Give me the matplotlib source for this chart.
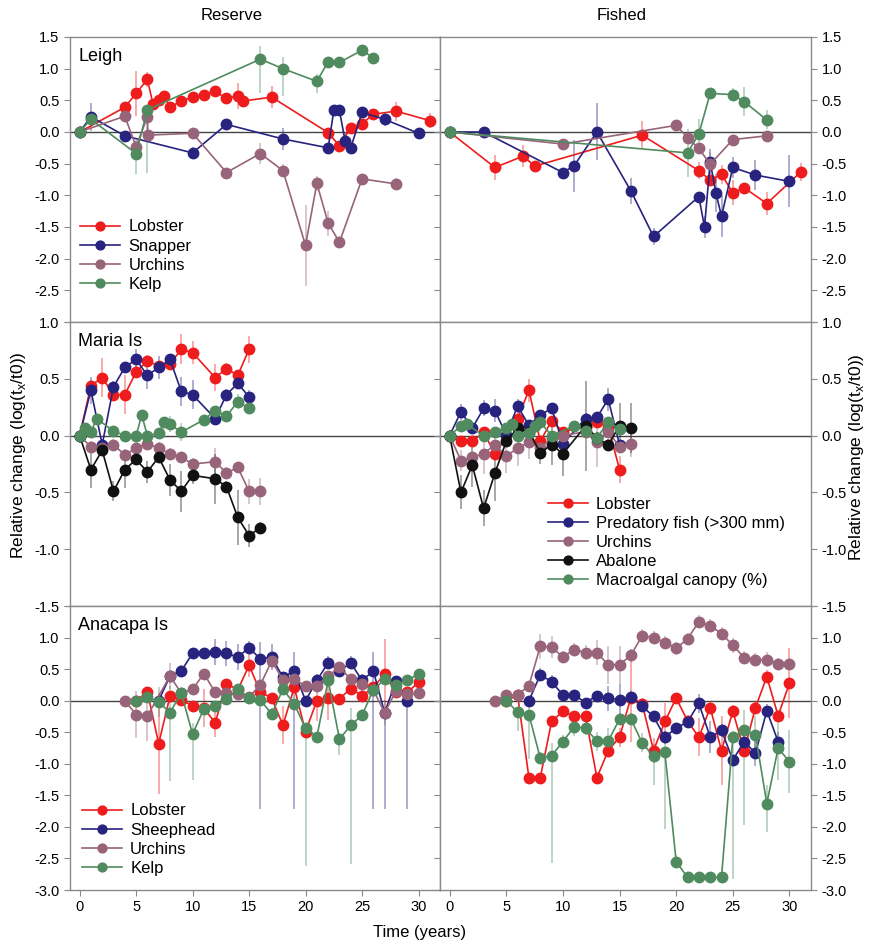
import matplotlib
matplotlib.use("Agg")
import matplotlib.pyplot as plt

plt.rcParams['font.family'] = ['Liberation Sans', 'DejaVu Sans']

RED = '#ee1c1c'
BLUE = '#27237f'
MAUVE = '#976479'
GREEN = '#4f8b5f'
BLACK = '#111111'

# ---------------- Leigh, reserve ----------------
leigh_res_lobster_x = [0, 4, 5, 6, 6.5, 7, 7.5, 8, 9, 10, 11, 12, 13, 14, 14.5, 17, 22, 23, 24, 25, 26, 28, 31]
leigh_res_lobster_y = [0, 0.39, 0.61, 0.83, 0.44, 0.50, 0.57, 0.39, 0.49, 0.55, 0.59, 0.64, 0.53, 0.57, 0.49, 0.55, -0.01, -0.22, 0.07, 0.13, 0.28, 0.33, 0.18]
leigh_res_lobster_err = [0, 0.07, 0.35, 0.12, 0.05, 0.05, 0.05, 0.05, 0.05, 0.08, 0.05, 0.05, 0.05, 0.2, 0.05, 0.17, 0.05, 0.05, 0.05, 0.08, 0.05, 0.15, 0.12]

leigh_res_snapper_x = [0, 1, 4, 10, 13, 18, 22, 22.5, 23, 23.5, 24, 25, 27, 30]
leigh_res_snapper_y = [0, 0.24, -0.06, -0.33, 0.12, -0.11, -0.25, 0.34, 0.34, -0.14, -0.25, 0.31, 0.20, -0.02]
leigh_res_snapper_err = [0, 0.22, 0.05, 0.1, 0.05, 0.18, 0.05, 0.08, 0.08, 0.13, 0.05, 0.05, 0.1, 0.05]

leigh_res_urchin_x = [0, 4, 5, 6, 6.05, 10, 13, 16, 18, 20, 21, 22, 23, 25, 28]
leigh_res_urchin_y = [0, 0.25, -0.23, 0.24, -0.05, -0.02, -0.64, -0.34, -0.61, -1.79, -0.81, -1.44, -1.74, -0.74, -0.82]
leigh_res_urchin_err = [0, 0.05, 0.1, 0.05, 0.05, 0.05, 0.05, 0.17, 0.1, 0.64, 0.12, 0.2, 0.05, 0.05, 0.1]

leigh_res_kelp_x = [0, 1, 5, 6, 16, 18, 21, 22, 23, 25, 26]
leigh_res_kelp_y = [0, 0.20, -0.34, 0.35, 1.15, 1.0, 0.80, 1.11, 1.10, 1.29, 1.17]
leigh_res_kelp_lo = [0, 0.05, 0.33, 1.0, 0.53, 0.43, 0.18, 0.05, 0.05, 0.05, 0.05]
leigh_res_kelp_hi = [0, 0.05, 0.2, 0.04, 0.21, 0.19, 0.11, 0.05, 0.05, 0.05, 0.05]

# ---------------- Leigh, fished ----------------
leigh_fis_lobster_x = [0, 4, 6.5, 7.5, 17, 22, 23, 24, 25, 26, 28, 31]
leigh_fis_lobster_y = [0, -0.56, -0.38, -0.54, -0.05, -0.61, -0.76, -0.67, -0.96, -0.88, -1.13, -0.63]
leigh_fis_lobster_err = [0, 0.2, 0.18, 0.05, 0.22, 0.13, 0.05, 0.15, 0.2, 0.05, 0.18, 0.14]

leigh_fis_snapper_x = [0, 3, 10, 11, 13, 16, 18, 22, 22.5, 23, 23.5, 24, 25, 27, 30]
leigh_fis_snapper_y = [0, 0, -0.64, -0.53, 0, -0.93, -1.65, -1.02, -1.50, -0.47, -0.96, -1.33, -0.56, -0.68, -0.78]
leigh_fis_snapper_err = [0, 0.05, 0.05, 0.41, 0.45, 0.2, 0.13, 0.05, 0.18, 0.2, 0.3, 0.33, 0.16, 0.23, 0.41]

leigh_fis_urchin_x = [0, 10, 20, 21, 22, 23, 25, 28]
leigh_fis_urchin_y = [0, -0.19, 0.105, -0.09, -0.26, -0.51, -0.12, -0.06]
leigh_fis_urchin_err = [0, 0.05, 0.05, 0.05, 0.05, 0.2, 0.05, 0.05]

leigh_fis_kelp_x = [0, 21, 22, 23, 25, 26, 28]
leigh_fis_kelp_y = [0, -0.33, -0.03, 0.61, 0.59, 0.48, 0.19]
leigh_fis_kelp_err = [0, 0.38, 0.23, 0.05, 0.1, 0.23, 0.15]

# ---------------- Maria Is, reserve ----------------
maria_res_lobster_x = [0, 1, 2, 3, 4, 5, 6, 7, 8, 9, 10, 12, 13, 14, 15]
maria_res_lobster_y = [0, 0.44, 0.51, 0.36, 0.36, 0.56, 0.66, 0.61, 0.63, 0.76, 0.73, 0.51, 0.59, 0.53, 0.76]
maria_res_lobster_err = [0, 0.05, 0.17, 0.05, 0.17, 0.05, 0.05, 0.05, 0.05, 0.13, 0.1, 0.12, 0.05, 0.05, 0.12]

maria_res_fish_x = [0, 1, 2, 3, 4, 5, 6, 7, 8, 9, 10, 12, 13, 14, 15]
maria_res_fish_y = [0, 0.40, -0.08, 0.43, 0.60, 0.67, 0.53, 0.60, 0.67, 0.39, 0.36, 0.15, 0.36, 0.46, 0.34]
maria_res_fish_err = [0, 0.12, 0.05, 0.05, 0.05, 0.09, 0.12, 0.1, 0.05, 0.13, 0.13, 0.05, 0.05, 0.05, 0.06]

maria_res_urchin_x = [0, 1, 2, 3, 4, 5, 6, 7, 8, 9, 10, 12, 13, 14, 15, 16]
maria_res_urchin_y = [0, -0.10, -0.11, -0.08, -0.17, -0.11, -0.07, -0.11, -0.16, -0.19, -0.25, -0.23, -0.33, -0.28, -0.49, -0.49]
maria_res_urchin_err = [0, 0.05, 0.05, 0.05, 0.05, 0.05, 0.05, 0.05, 0.05, 0.05, 0.05, 0.12, 0.05, 0.05, 0.11, 0.12]

maria_res_abalone_x = [0, 1, 2, 3, 4, 5, 6, 7, 8, 9, 10, 12, 13, 14, 15, 16]
maria_res_abalone_y = [0, -0.30, -0.13, -0.49, -0.30, -0.21, -0.32, -0.19, -0.39, -0.49, -0.35, -0.38, -0.45, -0.72, -0.88, -0.81]
maria_res_abalone_err = [0, 0.16, 0.05, 0.09, 0.16, 0.05, 0.1, 0.05, 0.14, 0.18, 0.08, 0.22, 0.05, 0.24, 0.1, 0.05]

maria_res_canopy_x = [0, 0.5, 1, 1.5, 3, 4, 5, 5.5, 6, 7, 7.5, 8, 9, 11, 12, 13, 14, 15]
maria_res_canopy_y = [0, 0.065, 0.03, 0.15, 0.04, 0.0, 0.0, 0.18, 0.0, 0.02, 0.12, 0.10, 0.03, 0.14, 0.22, 0.17, 0.30, 0.24]
maria_res_canopy_err = [0, 0.03, 0.03, 0.04, 0.03, 0.03, 0.03, 0.04, 0.03, 0.03, 0.04, 0.07, 0.08, 0.04, 0.04, 0.05, 0.07, 0.04]

# ---------------- Maria Is, fished ----------------
maria_fis_lobster_x = [0, 1, 2, 3, 4, 6, 7, 8, 9, 10, 12, 13, 14, 15]
maria_fis_lobster_y = [0, -0.05, -0.05, 0.03, -0.16, 0.15, 0.40, -0.05, 0.13, 0.035, 0.08, 0.12, 0.08, -0.30]
maria_fis_lobster_err = [0, 0.05, 0.04, 0.04, 0.05, 0.05, 0.1, 0.04, 0.04, 0.04, 0.04, 0.04, 0.04, 0.12]

maria_fis_fish_x = [0, 1, 2, 3, 4, 5, 6, 7, 8, 9, 10, 12, 13, 14, 15]
maria_fis_fish_y = [0, 0.21, 0.065, 0.24, 0.22, 0.006, 0.26, 0.09, 0.18, 0.24, -0.07, 0.15, 0.16, 0.32, -0.08]
maria_fis_fish_err = [0, 0.07, 0.05, 0.07, 0.1, 0.04, 0.06, 0.04, 0.04, 0.04, 0.04, 0.05, 0.04, 0.1, 0.04]

maria_fis_urchin_x = [0, 1, 2, 3, 4, 5, 6, 7, 8, 9, 10, 12, 13, 14, 15, 16]
maria_fis_urchin_y = [0, -0.22, -0.19, -0.16, -0.08, -0.18, -0.11, -0.06, -0.11, -0.02, 0.0, 0.035, -0.06, 0.035, -0.10, -0.07]
maria_fis_urchin_err = [0, 0.09, 0.05, 0.18, 0.1, 0.15, 0.16, 0.15, 0.05, 0.05, 0.05, 0.05, 0.22, 0.05, 0.05, 0.12]

maria_fis_abalone_x = [0, 1, 2, 3, 4, 5, 6, 7, 8, 9, 10, 12, 13, 14, 15, 16]
maria_fis_abalone_y = [0, -0.50, -0.26, -0.64, -0.33, -0.05, 0.065, 0.035, -0.15, -0.08, -0.16, 0.085, -0.02, -0.08, 0.085, 0.07]
maria_fis_abalone_err = [0, 0.15, 0.19, 0.16, 0.25, 0.05, 0.05, 0.05, 0.1, 0.18, 0.2, 0.4, 0.05, 0.05, 0.2, 0.22]

maria_fis_canopy_x = [0, 1, 1.5, 3, 4, 5, 5.5, 6, 7, 7.5, 8, 9, 11, 12, 13, 14, 15]
maria_fis_canopy_y = [0, 0.085, 0.10, 0.0, 0.03, 0.07, 0.10, 0.0, 0.02, 0.085, 0.12, 0.0, 0.085, 0.04, -0.02, 0.12, 0.06]
maria_fis_canopy_err = [0, 0.03, 0.03, 0.03, 0.03, 0.03, 0.03, 0.03, 0.03, 0.03, 0.03, 0.03, 0.03, 0.03, 0.03, 0.03, 0.03]

# ---------------- Anacapa Is, reserve ----------------
ana_res_lobster_x = list(range(5, 31))
ana_res_lobster_y = [0, 0.14, -0.68, 0.07, 0.01, -0.08, -0.12, -0.35, 0.27, 0.17, 0.56, 0.14, 0.04, -0.39, 0.21, -0.49, 0.0, 0.05, 0.03, 0.19, 0.08, 0.21, 0.42, 0.13, 0.13, 0.29]
ana_res_lobster_err = [0, 0.05, 0.8, 0.05, 0.05, 0.05, 0.3, 0.22, 0.05, 0.05, 0.18, 0.05, 0.05, 0.3, 0.05, 0.05, 0.33, 0.36, 0.05, 0.05, 0.05, 0.05, 0.55, 0.05, 0.05, 0.05]

ana_res_sheep_x = list(range(7, 30))
ana_res_sheep_y = [0, 0.39, 0.47, 0.75, 0.75, 0.77, 0.75, 0.69, 0.84, 0.66, 0.69, 0.37, 0.47, 0.0, 0.32, 0.60, 0.47, 0.60, 0.32, 0.47, -0.19, 0.31, 0.0]
ana_res_sheep_lo = [0, 0.05, 0.1, 0.05, 0.05, 0.2, 0.2, 0.2, 0.1, 2.37, 0.2, 0.05, 2.18, 0.05, 0.1, 0.1, 0.1, 0.1, 0.1, 2.18, 1.52, 0.05, 1.71]
ana_res_sheep_hi = [0, 0.05, 0.1, 0.05, 0.05, 0.2, 0.2, 0.2, 0.1, 0.27, 0.2, 0.05, 0.3, 0.05, 0.1, 0.1, 0.1, 0.1, 0.1, 0.3, 0.05, 0.05, 0.1]

ana_res_urchin_x = [4, 5, 6, 8, 9, 10, 11, 12, 13, 14, 15, 16, 17, 18, 19, 20, 21, 22, 23, 24, 25, 26, 27, 28, 29, 30]
ana_res_urchin_y = [0, -0.22, -0.24, 0.39, 0.12, 0.18, 0.43, 0.13, 0.12, 0.10, 0.06, 0.25, 0.63, 0.33, 0.34, 0.23, 0.24, 0.39, 0.53, 0.34, 0.26, 0.17, -0.19, 0.15, 0.10, 0.12]
ana_res_urchin_err = [0, 0.37, 0.4, 0.2, 0.05, 0.05, 0.05, 0.05, 0.05, 0.05, 0.05, 0.05, 0.05, 0.05, 0.05, 0.05, 0.05, 0.05, 0.05, 0.05, 0.1, 0.05, 0.2, 0.05, 0.05, 0.05]

ana_res_kelp_x = list(range(5, 31))
ana_res_kelp_y = [0, 0.06, -0.02, -0.19, 0.12, -0.53, -0.13, -0.09, 0.03, 0.18, 0.04, 0.01, -0.21, 0.18, -0.05, -0.44, -0.57, 0.32, -0.61, -0.39, -0.23, 0.17, 0.34, 0.25, 0.32, 0.42]
ana_res_kelp_lo = [0, 0.05, 0.24, 1.09, 0.05, 0.73, 0.05, 0.05, 0.05, 0.05, 0.05, 0.05, 0.1, 0.05, 0.05, 2.18, 0.05, 0.05, 0.25, 2.2, 0.1, 0.05, 0.05, 0.05, 0.05, 0.05]
ana_res_kelp_hi = [0, 0.05, 0.24, 0.42, 0.05, 0.17, 0.05, 0.05, 0.05, 0.05, 0.05, 0.05, 0.1, 0.05, 0.05, 0.03, 0.05, 0.05, 0.1, 0.27, 0.1, 0.05, 0.05, 0.05, 0.05, 0.05]

# ---------------- Anacapa Is, fished ----------------
ana_fis_urchin_x = list(range(4, 31))
ana_fis_urchin_y = [0, 0.09, 0.09, 0.24, 0.86, 0.85, 0.69, 0.81, 0.76, 0.76, 0.57, 0.57, 0.72, 1.03, 1.0, 0.92, 0.83, 0.98, 1.25, 1.19, 1.06, 0.88, 0.68, 0.65, 0.65, 0.58, 0.58]
ana_fis_urchin_err = [0, 0.05, 0.05, 0.05, 0.2, 0.18, 0.1, 0.1, 0.12, 0.2, 0.3, 0.3, 0.1, 0.1, 0.1, 0.1, 0.1, 0.1, 0.1, 0.1, 0.1, 0.12, 0.1, 0.1, 0.12, 0.1, 0.1]

ana_fis_sheep_x = list(range(7, 30))
ana_fis_sheep_y = [0, 0.41, 0.30, 0.09, 0.09, -0.03, 0.08, 0.04, 0.01, 0.06, -0.09, -0.25, -0.58, -0.43, -0.34, -0.04, -0.58, -0.47, -0.94, -0.65, -0.83, -0.16, -0.65]
ana_fis_sheep_err = [0, 0.1, 0.1, 0.05, 0.05, 0.05, 0.05, 0.2, 0.25, 0.1, 0.05, 0.05, 0.1, 0.05, 0.05, 0.15, 0.25, 0.1, 0.05, 0.1, 0.2, 0.1, 0.15]

ana_fis_lobster_x = list(range(5, 31))
ana_fis_lobster_y = [0, 0.09, -1.22, -1.22, -0.33, -0.17, -0.25, -0.25, -1.22, -0.79, -0.58, 0.05, -0.05, -0.79, -0.33, 0.04, -0.32, -0.58, -0.11, -0.79, -0.17, -0.79, -0.11, 0.38, -0.24, 0.28]
ana_fis_lobster_err = [0, 0.05, 0.05, 0.05, 0.05, 0.05, 0.05, 0.05, 0.05, 0.1, 0.15, 0.7, 0.1, 0.2, 0.3, 0.05, 0.1, 0.3, 0.1, 0.55, 0.1, 0.1, 0.1, 0.1, 0.1, 0.55]

ana_fis_kelp_x = list(range(5, 31))
ana_fis_kelp_y = [0, -0.18, -0.22, -0.91, -0.87, -0.65, -0.41, -0.44, -0.64, -0.64, -0.29, -0.29, -0.67, -0.88, -0.82, -2.55, -2.80, -2.80, -2.80, -2.80, -0.58, -0.47, -0.54, -1.63, -0.75, -0.97]
ana_fis_kelp_lo = [0, 0.3, 0.7, 0.1, 1.71, 0.1, 0.15, 0.1, 0.15, 0.2, 0.1, 0.1, 0.15, 0.45, 1.21, 0.1, 0.05, 0.05, 0.05, 0.05, 2.24, 1.5, 0.3, 0.45, 0.5, 0.5]
ana_fis_kelp_hi = [0, 0.05, 0.17, 0.1, 0.2, 0.1, 0.15, 0.1, 0.15, 0.2, 0.1, 0.1, 0.15, 0.2, 0.3, 0.1, 0.05, 0.05, 0.05, 0.05, 0.1, 0.32, 0.3, 0.3, 0.5, 0.5]

site_names = ['Leigh', 'Maria Is', 'Anacapa Is']
col_titles = ['Reserve', 'Fished']
ylims = [(-3.0, 1.5), (-1.5, 1.0), (-3.0, 1.5)]
yticks = [[1.5, 1.0, 0.5, 0.0, -0.5, -1.0, -1.5, -2.0, -2.5, -3.0],
          [1.0, 0.5, 0.0, -0.5, -1.0, -1.5],
          [1.5, 1.0, 0.5, 0.0, -0.5, -1.0, -1.5, -2.0, -2.5, -3.0]]
xticks = [0, 5, 10, 15, 20, 25, 30]

panels = {
    (0, 0): [('Lobster', RED, leigh_res_lobster_x, leigh_res_lobster_y, leigh_res_lobster_err, None),
             ('Snapper', BLUE, leigh_res_snapper_x, leigh_res_snapper_y, leigh_res_snapper_err, None),
             ('Urchins', MAUVE, leigh_res_urchin_x, leigh_res_urchin_y, leigh_res_urchin_err, None),
             ('Kelp', GREEN, leigh_res_kelp_x, leigh_res_kelp_y, leigh_res_kelp_lo, leigh_res_kelp_hi)],
    (0, 1): [('Lobster', RED, leigh_fis_lobster_x, leigh_fis_lobster_y, leigh_fis_lobster_err, None),
             ('Snapper', BLUE, leigh_fis_snapper_x, leigh_fis_snapper_y, leigh_fis_snapper_err, None),
             ('Urchins', MAUVE, leigh_fis_urchin_x, leigh_fis_urchin_y, leigh_fis_urchin_err, None),
             ('Kelp', GREEN, leigh_fis_kelp_x, leigh_fis_kelp_y, leigh_fis_kelp_err, None)],
    (1, 0): [('Lobster', RED, maria_res_lobster_x, maria_res_lobster_y, maria_res_lobster_err, None),
             ('Predatory fish (>300 mm)', BLUE, maria_res_fish_x, maria_res_fish_y, maria_res_fish_err, None),
             ('Urchins', MAUVE, maria_res_urchin_x, maria_res_urchin_y, maria_res_urchin_err, None),
             ('Abalone', BLACK, maria_res_abalone_x, maria_res_abalone_y, maria_res_abalone_err, None),
             ('Macroalgal canopy (%)', GREEN, maria_res_canopy_x, maria_res_canopy_y, maria_res_canopy_err, None)],
    (1, 1): [('Lobster', RED, maria_fis_lobster_x, maria_fis_lobster_y, maria_fis_lobster_err, None),
             ('Predatory fish (>300 mm)', BLUE, maria_fis_fish_x, maria_fis_fish_y, maria_fis_fish_err, None),
             ('Urchins', MAUVE, maria_fis_urchin_x, maria_fis_urchin_y, maria_fis_urchin_err, None),
             ('Abalone', BLACK, maria_fis_abalone_x, maria_fis_abalone_y, maria_fis_abalone_err, None),
             ('Macroalgal canopy (%)', GREEN, maria_fis_canopy_x, maria_fis_canopy_y, maria_fis_canopy_err, None)],
    (2, 0): [('Lobster', RED, ana_res_lobster_x, ana_res_lobster_y, ana_res_lobster_err, None),
             ('Sheephead', BLUE, ana_res_sheep_x, ana_res_sheep_y, ana_res_sheep_lo, ana_res_sheep_hi),
             ('Urchins', MAUVE, ana_res_urchin_x, ana_res_urchin_y, ana_res_urchin_err, None),
             ('Kelp', GREEN, ana_res_kelp_x, ana_res_kelp_y, ana_res_kelp_lo, ana_res_kelp_hi)],
    (2, 1): [('Lobster', RED, ana_fis_lobster_x, ana_fis_lobster_y, ana_fis_lobster_err, None),
             ('Sheephead', BLUE, ana_fis_sheep_x, ana_fis_sheep_y, ana_fis_sheep_err, None),
             ('Urchins', MAUVE, ana_fis_urchin_x, ana_fis_urchin_y, ana_fis_urchin_err, None),
             ('Kelp', GREEN, ana_fis_kelp_x, ana_fis_kelp_y, ana_fis_kelp_lo, ana_fis_kelp_hi)],
}

# legends: (row, col) -> anchor in axes fraction
legend_pos = {(0, 0): (0.027, 0.36), (1, 1): (0.29, 0.385), (2, 0): (0.032, 0.305)}

W, H = 875, 947
fig = plt.figure(figsize=(W / 100, H / 100), dpi=100)
cols_px = [(70, 440), (440, 811)]
rows_px = [(37, 322), (322, 606), (606, 890)]
SPINE = '#8a8a8a'

for r in range(3):
    for c in range(2):
        l, rr = cols_px[c]
        t, b = rows_px[r]
        ax = fig.add_axes([l / W, 1 - b / H, (rr - l) / W, (b - t) / H])
        ax.set_xlim(-0.85, 31.9)
        ax.set_ylim(*ylims[r])
        ax.axhline(0, color='#444444', lw=1.0, zorder=1)
        for name, col, xs, ys, e1, e2 in panels[(r, c)]:
            yerr = e1 if e2 is None else [e1, e2]
            ax.errorbar(xs, ys, yerr=yerr, fmt='none', ecolor=col, alpha=0.4,
                        elinewidth=1.3, capsize=0, zorder=2)
            ax.plot(xs, ys, '-o', color=col, lw=1.2, ms=7.5, label=name, zorder=3)
        for s in ax.spines.values():
            s.set_color(SPINE)
            s.set_linewidth(1.0)
        ax.set_xticks(xticks)
        ax.tick_params(axis='x', direction='out', length=4, color=SPINE,
                       labelbottom=(r == 2), labelsize=10.5)
        ax.set_yticks(yticks[r])
        labels = ['%.1f' % v for v in yticks[r]]
        if r == 0:
            labels[-1] = ''
        if r == 2:
            labels[0] = ''
        ax.set_yticklabels(labels)
        if c == 0:
            ax.tick_params(axis='y', direction='out', length=4, color=SPINE,
                           left=True, labelleft=True, right=False, labelsize=10.5)
        else:
            ax.tick_params(axis='y', direction='out', length=4, color=SPINE,
                           left=True, labelleft=False, right=True, labelright=True,
                           labelsize=10.5)
        if c == 0:
            ax.text(0.022, 0.962, site_names[r], transform=ax.transAxes,
                    ha='left', va='top', fontsize=13)
        if (r, c) in legend_pos:
            leg = ax.legend(loc='upper left', bbox_to_anchor=legend_pos[(r, c)],
                            frameon=False, fontsize=12, handlelength=2.4,
                            handletextpad=0.5, labelspacing=0.25, borderpad=0,
                            borderaxespad=0, markerscale=0.85)

fig.text(232 / W, 1 - 16 / H, col_titles[0], ha='center', va='center', fontsize=12)
fig.text(622 / W, 1 - 16 / H, col_titles[1], ha='center', va='center', fontsize=12)
fig.text(420 / W, 1 - 932 / H, 'Time (years)', ha='center', va='center', fontsize=12)
ylab = r'Relative change (log(t$_\mathregular{x}$/t0))'
fig.text(19 / W, 1 - 455 / H, ylab, rotation=90, ha='center', va='center', fontsize=12.5)
fig.text(857 / W, 1 - 457 / H, ylab, rotation=90, ha='center', va='center', fontsize=12.5)

fig.savefig('out.png', dpi=100)
